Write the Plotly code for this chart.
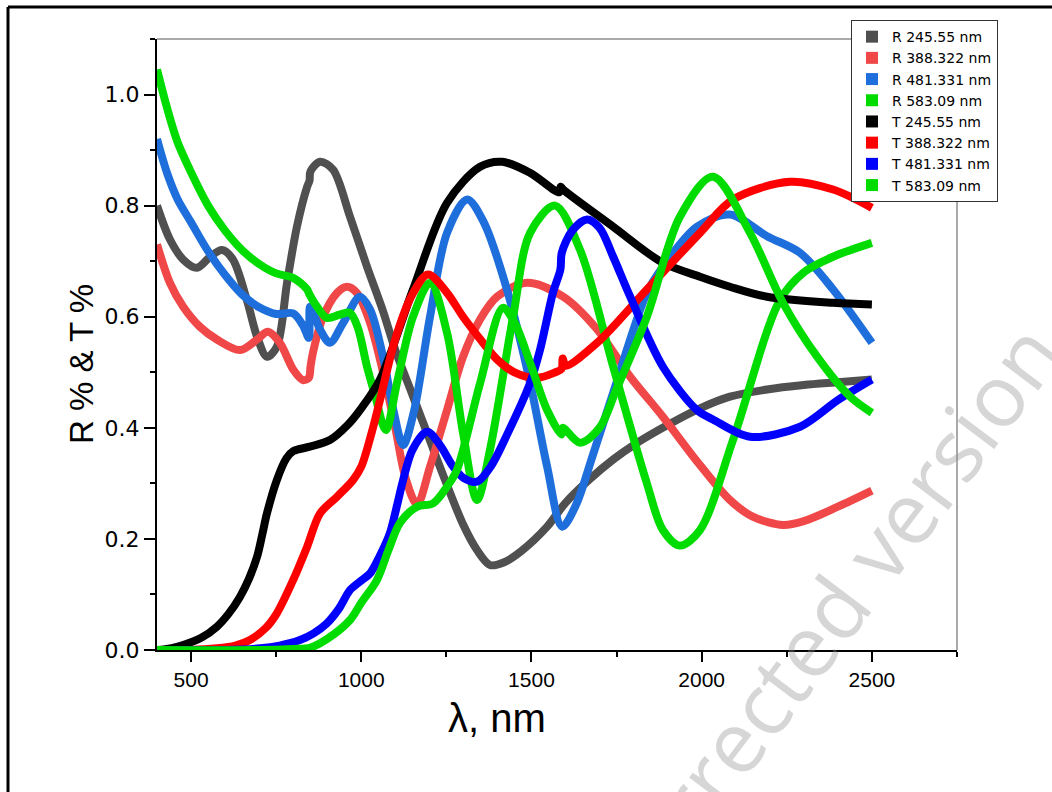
import plotly.graph_objects as go

# Reflectance spectra (R) and transmittance spectra (T) for four film thicknesses.
# The small steps near 850 nm (R) and 1590 nm (T) are the detector-change artefacts.
wl_r1 = [400, 438, 477, 517, 556, 591, 623, 664, 694, 723, 752, 782, 811, 841, 848,
         851, 879, 917, 967, 1017, 1064, 1100, 1150, 1200, 1250, 1300, 1340, 1378, 1420, 1470,
         1546, 1600, 1670, 1740, 1800, 1900, 1995, 2083, 2192, 2300, 2400, 2500]
r1 = [0.800, 0.739, 0.703, 0.688, 0.708, 0.720, 0.703, 0.630, 0.564, 0.528, 0.546, 0.661, 0.762,
      0.834, 0.845,
      0.862, 0.879, 0.865, 0.780, 0.690, 0.610, 0.540, 0.460, 0.380, 0.300, 0.225, 0.180, 0.153,
      0.158, 0.178, 0.222, 0.265, 0.307, 0.343, 0.369, 0.405, 0.435, 0.456, 0.469, 0.477, 0.482,
      0.487]

wl_r2 = [400, 438, 477, 526, 576, 644, 694, 726, 761, 800, 829, 846,
         851, 858, 888, 929, 958, 987, 1026, 1064, 1100, 1130, 1164, 1202, 1252, 1299, 1349, 1399,
         1487, 1593, 1693, 1790, 1886, 1986, 2083, 2150, 2239, 2300, 2400, 2500]
r2 = [0.730, 0.661, 0.618, 0.582, 0.559, 0.540, 0.559, 0.573, 0.553, 0.505, 0.486, 0.490,
      0.510, 0.535, 0.600, 0.643, 0.654, 0.643, 0.589, 0.500, 0.400, 0.310, 0.262, 0.330, 0.432,
      0.528, 0.595, 0.636, 0.661, 0.636, 0.577, 0.492, 0.420, 0.340, 0.270, 0.240, 0.225, 0.232,
      0.258, 0.287]

wl_r3 = [400, 430, 460, 500, 550, 600, 650, 700, 750, 800, 829, 846,
         850, 879, 908, 947, 996, 1026, 1064, 1095, 1123, 1155, 1202, 1252, 1311, 1360, 1428,
         1496, 1546, 1590, 1630, 1680, 1740, 1839, 1886, 1986, 2083, 2192, 2289, 2386, 2500]
r3 = [0.920, 0.858, 0.812, 0.770, 0.718, 0.675, 0.640, 0.617, 0.605, 0.606, 0.584, 0.562,
      0.618, 0.577, 0.553, 0.589, 0.636, 0.613, 0.528, 0.430, 0.369, 0.430, 0.600, 0.751, 0.811,
      0.770, 0.649, 0.481, 0.330, 0.222, 0.260, 0.350, 0.463, 0.643, 0.690, 0.762, 0.784, 0.745,
      0.715, 0.649, 0.553]

wl_r4 = [400, 430, 460, 500, 550, 600, 650, 700, 750, 800, 840,
         848, 870, 899, 938, 967, 990, 1017, 1040, 1072, 1105, 1152, 1202, 1252, 1299, 1340, 1378,
         1446, 1496, 1569, 1643, 1740, 1839, 1886, 1936, 1995, 2092, 2230, 2300, 2386, 2500]
r4 = [1.045, 0.975, 0.915, 0.860, 0.800, 0.755, 0.720, 0.695, 0.678, 0.670, 0.650,
      0.640, 0.618, 0.598, 0.604, 0.607, 0.580, 0.510, 0.460, 0.396, 0.481, 0.600, 0.661, 0.571,
      0.391, 0.270, 0.360, 0.600, 0.751, 0.800, 0.720, 0.510, 0.300, 0.216, 0.188, 0.216, 0.378,
      0.630, 0.680, 0.708, 0.733]

wl_t1 = [400, 440, 477, 530, 576, 610, 644, 670, 694, 710, 723, 752, 780, 800, 849, 908, 960,
         1000, 1055, 1152, 1252, 1349, 1414, 1496, 1582,
         1586, 1593, 1740, 1886, 1995, 2083, 2192, 2386, 2500]
t1 = [0.000, 0.003, 0.009, 0.022, 0.042, 0.065, 0.096, 0.128, 0.168, 0.210, 0.246, 0.306, 0.345,
      0.358, 0.366, 0.378, 0.405, 0.435, 0.487, 0.649, 0.805, 0.870, 0.879, 0.859, 0.824,
      0.834, 0.829, 0.762, 0.697, 0.672, 0.654, 0.636, 0.625, 0.622]

wl_t2 = [400, 500, 576, 630, 673, 720, 752, 800, 841, 879, 929, 976, 1000, 1030, 1055, 1100, 1150,
         1196, 1252, 1299, 1349, 1399, 1450, 1516, 1570, 1588,
         1592, 1600, 1693, 1839, 1995, 2092, 2259, 2386, 2500]
t2 = [0.000, 0.000, 0.003, 0.008, 0.018, 0.040, 0.066, 0.126, 0.186, 0.246, 0.276, 0.306, 0.330,
      0.390, 0.450, 0.560, 0.640, 0.676, 0.643, 0.600, 0.560, 0.523, 0.500, 0.490, 0.500, 0.506,
      0.525, 0.512, 0.553, 0.649, 0.751, 0.811, 0.843, 0.829, 0.796]

wl_t3 = [400, 600, 703, 760, 820, 860, 899, 935, 967, 1000, 1026, 1055, 1084, 1105, 1123, 1150,
         1193, 1230, 1270, 1300, 1340, 1380, 1430, 1496, 1525, 1563, 1585,
         1589, 1620, 1663, 1700, 1740, 1790, 1886, 1986, 2033, 2142, 2289, 2400, 2500]
t3 = [0.000, 0.000, 0.003, 0.008, 0.018, 0.030, 0.048, 0.075, 0.108, 0.125, 0.138, 0.170, 0.210,
      0.260, 0.306, 0.360, 0.393, 0.370, 0.330, 0.310, 0.303, 0.330, 0.390, 0.481, 0.540, 0.643,
      0.685,
      0.715, 0.755, 0.775, 0.760, 0.708, 0.636, 0.510, 0.432, 0.415, 0.384, 0.402, 0.450, 0.487]

wl_t4 = [400, 700, 800, 849, 900, 967, 1000, 1046, 1080, 1114, 1164, 1211, 1252, 1281, 1349,
         1416, 1450, 1496, 1546, 1588,
         1592, 1643, 1700, 1750, 1839, 1936, 2033, 2142, 2239, 2339, 2436, 2500]
t4 = [0.000, 0.000, 0.002, 0.004, 0.020, 0.054, 0.085, 0.126, 0.180, 0.229, 0.258, 0.264, 0.294,
      0.324, 0.480, 0.616, 0.590, 0.517, 0.432, 0.388,
      0.400, 0.373, 0.400, 0.470, 0.600, 0.780, 0.852, 0.751, 0.625, 0.528, 0.456, 0.427]

names = ["R 245.55 nm", "R 388.322 nm", "R 481.331 nm", "R 583.09 nm",
         "T 245.55 nm", "T 388.322 nm", "T 481.331 nm", "T 583.09 nm"]
colors = ["#505050", "#F04848", "#1E6FDC", "#00DC00",
          "#000000", "#FF0000", "#0000FF", "#00DC00"]
series = [(wl_r1, r1), (wl_r2, r2), (wl_r3, r3), (wl_r4, r4),
          (wl_t1, t1), (wl_t2, t2), (wl_t3, t3), (wl_t4, t4)]

fig = go.Figure()

for name, color, (x, y) in zip(names, colors, series):
    fig.add_trace(go.Scatter(
        x=x, y=y, mode="lines", name=name, showlegend=False,
        line=dict(color=color, width=8, shape="spline", smoothing=0.9),
        hoverinfo="skip",
    ))

# Legend entries drawn as square symbols
for name, color in zip(names, colors):
    fig.add_trace(go.Scatter(
        x=[None], y=[None], mode="markers", name=name,
        marker=dict(symbol="square", size=6, color=color),
    ))

sans = "Liberation Sans, Arial, sans-serif"
wide = "DejaVu Sans, sans-serif"

fig.update_layout(
    width=1052, height=792,
    margin=dict(l=157, r=95, t=39, b=142),
    paper_bgcolor="white", plot_bgcolor="white",
    font=dict(family=sans, color="black"),
    showlegend=True,
    legend=dict(
        x=0.8675, y=1.031, xanchor="left", yanchor="top",
        bgcolor="white", bordercolor="#333333", borderwidth=1,
        font=dict(size=14, family=wide, color="black"),
        itemsizing="constant", tracegroupgap=0,
    ),
    xaxis=dict(
        range=[400, 2750], tick0=0, dtick=500,
        ticks="outside", ticklen=10, tickwidth=2, tickcolor="black",
        minor=dict(dtick=250, tick0=0, ticks="outside", ticklen=5, tickwidth=2, tickcolor="black"),
        showline=True, linewidth=2, linecolor="black",
        showgrid=False, zeroline=False,
        tickfont=dict(size=21, family=sans),
    ),
    yaxis=dict(
        range=[0, 1.1], tick0=0, dtick=0.2, tickformat=".1f",
        ticks="outside", ticklen=11, tickwidth=2, tickcolor="black",
        minor=dict(dtick=0.1, tick0=0, ticks="outside", ticklen=5, tickwidth=2, tickcolor="black"),
        showline=True, linewidth=2, linecolor="black",
        showgrid=False, zeroline=False,
        tickfont=dict(size=22, family=wide),
    ),
)

# Axis titles
fig.add_annotation(text="λ, nm", xref="paper", yref="paper", x=0.425, y=-0.111,
                   xanchor="center", yanchor="middle", showarrow=False,
                   font=dict(size=40, family=sans, color="black"))
fig.add_annotation(text="R % & T %", xref="paper", yref="paper", x=-0.095, y=0.468,
                   xanchor="center", yanchor="middle", showarrow=False, textangle=-90,
                   font=dict(size=33, family=sans, color="black"))

# Thin mirror frame on top and right of the plot area
fig.add_shape(type="line", xref="paper", yref="paper", x0=0, x1=1, y0=1, y1=1,
              line=dict(color="#555555", width=1))
fig.add_shape(type="line", xref="paper", yref="paper", x0=1, x1=1, y0=0, y1=1,
              line=dict(color="#555555", width=1))

# Page border (left and top edges)
fig.add_shape(type="line", xref="paper", yref="paper", x0=-0.18625, x1=1.2, y0=1.0524, y1=1.0524,
              line=dict(color="black", width=3))
fig.add_shape(type="line", xref="paper", yref="paper", x0=-0.18625, x1=-0.18625, y0=-0.3, y1=1.0524,
              line=dict(color="black", width=3))

# Diagonal watermark
fig.add_annotation(
    text="Uncorrected version", xref="paper", yref="paper", x=0.796, y=-0.016,
    xanchor="center", yanchor="middle", showarrow=False, textangle=-53,
    font=dict(size=86, color="rgba(140,140,140,0.36)", family="Open Sans, sans-serif"),
)

fig.write_html("out.html")
